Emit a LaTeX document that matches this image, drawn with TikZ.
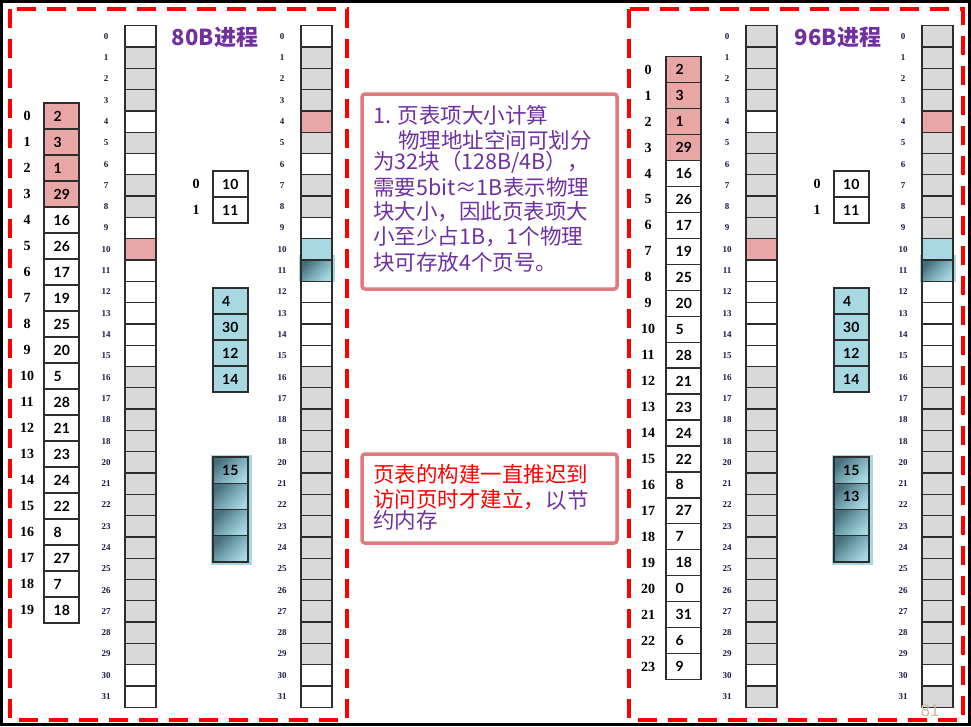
\documentclass[tikz,border=0pt]{standalone}
\usepackage{fontspec}
\setmainfont{Liberation Serif}
\newfontfamily\cjk{Noto Sans CJK SC}
\newfontfamily\cjkpurp{Noto Sans CJK SC}[Color=7030A0]
\newfontfamily\cjkred{Noto Sans CJK SC}[Color=FF0000]
\newfontfamily\valfont{Lato}
\newfontfamily\pgfont{Liberation Sans}
\definecolor{pinkc}{RGB}{232,166,166}
\definecolor{grayc}{RGB}{217,217,217}
\definecolor{bluec}{RGB}{168,216,226}
\definecolor{darkt}{RGB}{70,110,120}
\definecolor{midt}{RGB}{120,170,182}
\definecolor{lightt}{RGB}{168,216,228}
\definecolor{purp}{RGB}{112,48,160}
\definecolor{boxred}{RGB}{224,122,124}
\definecolor{lblc}{RGB}{25,30,60}
\definecolor{pgnum}{RGB}{200,188,160}
\definecolor{celledge}{RGB}{45,45,45}
\tikzset{
 cellbase/.style={draw=celledge, line width=1.3pt, inner sep=0pt, outer sep=0pt},
 memcell/.style={cellbase, minimum width=31pt, minimum height=21.3pt},
 ptcell/.style={cellbase, minimum width=35pt, minimum height=26pt},
 fW/.style={fill=white}, fG/.style={fill=grayc}, fP/.style={fill=pinkc}, fB/.style={fill=bluec},
 fD/.style={top color=darkt, bottom color=lightt, middle color=midt, shading angle=45},
 memlbl/.style={font=\bfseries\fontsize{9}{10}\selectfont, text=lblc, inner sep=0pt},
 idxlbl/.style={font=\bfseries\fontsize{14}{15}\selectfont, inner sep=0pt},
 val/.style={font=\valfont\bfseries\fontsize{14}{15}\selectfont, anchor=west, inner sep=0pt},
 ptitle/.style={font=\cjk\bfseries\fontsize{22}{24}\selectfont, text=purp},
 dashbox/.style={draw=red, line width=4pt, dash pattern=on 19pt off 11pt},
 notebox/.style={draw=boxred, line width=3.5pt, rounded corners=3pt, fill=white},
 notetxt/.style={font=\cjk\fontsize{21.5}{24}\selectfont, anchor=west, inner sep=0pt, text=purp},
 halo/.style={fill=bluec},
}
\newcommand\MemCol[4]{%
 \foreach \c [count=\i from 0] in {#4}{%
   \node[memcell,\c] (#1\i) at ({#2+15.5},{25.7+21.3*\i+10.65}) {};
   \node[memlbl] (#1l\i) at ({#3},{25.7+21.3*\i+10.65}) {\ifnum\i=19 18\else\i\fi};
 }}
\newcommand\PgTab[6]{% name, left x, top y, row h, index x, list fill/value
 \foreach \c/\v [count=\i from 0] in {#6}{%
   \node[ptcell,\c,minimum height=#4pt] (#1\i) at ({#2+17.5},{#3+#4*\i+#4/2}) {};
   \node[val] (#1v\i) at ({#2+9.5},{#3+#4*\i+#4/2}) {\v};
   \node[idxlbl] (#1l\i) at ({#5},{#3+#4*\i+#4/2}) {\i};
 }}
\begin{document}
\begin{tikzpicture}[x=1pt,y=-1pt]
\useasboundingbox (0,0) rectangle (971,726);
\fill[white] (0,0) rectangle (971,726);
\draw[black, line width=3pt] (1.5,1.5) rectangle (969.5,724.5);

% ---------------- notes ----------------
\draw[notebox] (362,94) rectangle (617,289);
\node[notetxt] (n1) at (373,115) {1. 页表项大小计算};
\node[notetxt] (n2) at (398,140) {物理地址空间可划分};
\node[notetxt] (n3) at (373,162) {为32块（128B/4B），};
\node[notetxt] (n4) at (373,187) {需要5bit≈1B表示物理};
\node[notetxt] (n5) at (373,212) {块大小，因此页表项大};
\node[notetxt] (n6) at (373,237) {小至少占1B，1个物理};
\node[notetxt] (n7) at (373,262) {块可存放4个页号。};

\draw[notebox] (362,454) rectangle (617,543);
\node[notetxt, font=\cjkred\fontsize{21.5}{24}\selectfont] (m1) at (373,474) {页表的构建一直推迟到};
\node[notetxt, font=\cjkred\fontsize{21.5}{24}\selectfont] (m2) at (373,500) {访问页时才建立，};
\node[notetxt, font=\cjkpurp\fontsize{21.5}{24}\selectfont] (m2b) at (m2.east) {以节};
\node[notetxt, font=\cjkpurp\fontsize{21.5}{24}\selectfont] (m3) at (373,520) {约内存};

% ---------------- left panel: 80B ----------------
\node[ptitle] (titleL) at (215,37) {80B进程};
\PgTab{LP}{44}{103}{26}{27}{fP/2,fP/3,fP/1,fP/29,fW/16,fW/26,fW/17,fW/19,fW/25,fW/20,fW/5,fW/28,fW/21,fW/23,fW/24,fW/22,fW/8,fW/27,fW/7,fW/18}
\MemCol{LA}{125}{106}{fW,fG,fG,fG,fW,fG,fW,fG,fG,fW,fP,fW,fW,fW,fW,fW,fG,fG,fG,fG,fG,fG,fG,fG,fG,fG,fG,fG,fG,fG,fW,fW}
\fill[halo] (299,255) rectangle (335,282);
\MemCol{LB}{301}{282}{fW,fG,fG,fG,fP,fG,fW,fG,fG,fW,fB,fD,fW,fW,fW,fW,fG,fG,fG,fG,fG,fG,fG,fG,fG,fG,fG,fG,fG,fG,fW,fW}
% small table
\foreach \v [count=\i from 0] in {10,11}{%
  \node[ptcell,fW] (LS\i) at (230.5,{171+26*\i+13}) {};
  \node[val] (LSv\i) at (222,{171+26*\i+13}) {\v};
  \node[idxlbl] (LSl\i) at (196,{171+26*\i+13}) {\i};
}
% blue table
\foreach \v [count=\i from 0] in {4,30,12,14}{%
  \node[ptcell,fB] (LQ\i) at (230.5,{288+26*\i+13}) {};
  \node[val] (LQv\i) at (222,{288+26*\i+13}) {\v};
}
% dark table
\fill[halo] (211,455) rectangle (252,565);
\foreach \v [count=\i from 0] in {15,{},{},{}}{%
  \node[ptcell,fD,minimum height=26.25pt] (LD\i) at (230.5,{457+26.25*\i+13.1}) {};
  \node[val] (LDv\i) at (222,{457+26.25*\i+13.1}) {\v};
}

% ---------------- right panel: 96B ----------------
\node[ptitle] (titleR) at (838,37) {96B进程};
\PgTab{RP}{666}{56.7}{25.95}{648}{fP/2,fP/3,fP/1,fP/29,fW/16,fW/26,fW/17,fW/19,fW/25,fW/20,fW/5,fW/28,fW/21,fW/23,fW/24,fW/22,fW/8,fW/27,fW/7,fW/18,fW/0,fW/31,fW/6,fW/9}
\MemCol{RA}{746}{727}{fG,fG,fG,fG,fW,fG,fG,fG,fG,fG,fP,fW,fW,fW,fW,fW,fG,fG,fG,fG,fG,fG,fG,fG,fG,fG,fG,fG,fG,fG,fW,fG}
\fill[halo] (920,255) rectangle (956,282);
\MemCol{RB}{922}{903}{fG,fG,fG,fG,fP,fG,fG,fG,fG,fG,fB,fD,fW,fW,fW,fW,fG,fG,fG,fG,fG,fG,fG,fG,fG,fG,fG,fG,fG,fG,fW,fG}
\foreach \v [count=\i from 0] in {10,11}{%
  \node[ptcell,fW] (RS\i) at (851.5,{171+26*\i+13}) {};
  \node[val] (RSv\i) at (843,{171+26*\i+13}) {\v};
  \node[idxlbl] (RSl\i) at (817,{171+26*\i+13}) {\i};
}
\foreach \v [count=\i from 0] in {4,30,12,14}{%
  \node[ptcell,fB] (RQ\i) at (851.5,{288+26*\i+13}) {};
  \node[val] (RQv\i) at (843,{288+26*\i+13}) {\v};
}
\fill[halo] (832,455) rectangle (873,565);
\foreach \v [count=\i from 0] in {15,13,{},{}}{%
  \node[ptcell,fD,minimum height=26.25pt] (RD\i) at (851.5,{457+26.25*\i+13.1}) {};
  \node[val] (RDv\i) at (843,{457+26.25*\i+13.1}) {\v};
}

% page number
\node[font=\pgfont\fontsize{17}{18}\selectfont, text=pgnum] (pg) at (930,711) {81};

% dashed frames
\draw[dashbox] (10,9) rectangle (347,720);
\draw[dashbox] (629,9) rectangle (963,720);
\end{tikzpicture}
\end{document}
